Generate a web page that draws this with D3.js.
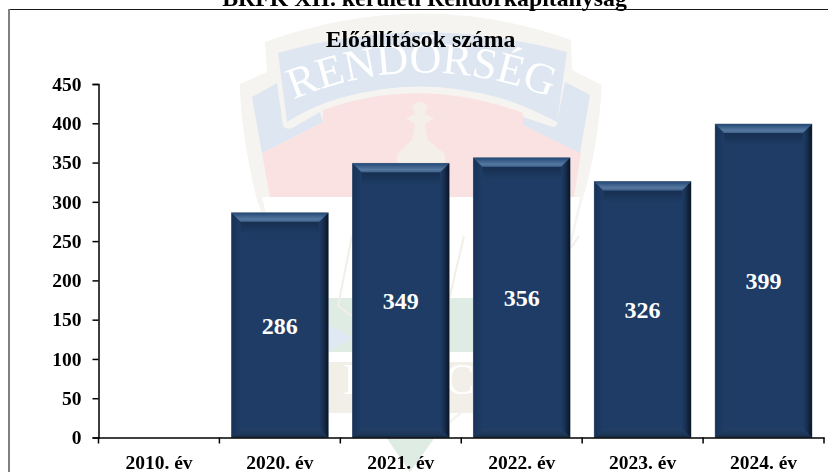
<!DOCTYPE html>
<html>
<head>
<meta charset="utf-8">
<script src="https://cdn.jsdelivr.net/npm/d3@7"></script>
<style>
  html, body { margin: 0; padding: 0; background: #fff; overflow: hidden; }
  svg { display: block; filter: blur(0.35px); }
  text { font-family: "Liberation Serif", serif; font-weight: bold; }
</style>
</head>
<body>
<script>
// Chart data
var categories = ["2010. év", "2020. év", "2021. év", "2022. év", "2023. év", "2024. év"];
var values = [null, 286, 349, 356, 326, 399];
var yTicks = [0, 50, 100, 150, 200, 250, 300, 350, 400, 450];

var pageTitle = "BRFK XII. kerületi Rendőrkapitányság";
var chartTitle = "Előállítások száma";
var crestWord = "RENDŐRSÉG";

var width = 828, height = 472;

var svg = d3.select("body").append("svg")
    .attr("width", width)
    .attr("height", height);

var defs = svg.append("defs");

// Helper for the bevel gradients
function addGradient(id, x2, y2, stops) {
  var g = defs.append("linearGradient")
      .attr("id", id)
      .attr("x1", "0%").attr("y1", "0%")
      .attr("x2", x2).attr("y2", y2);
  stops.forEach(function(s) {
    g.append("stop")
        .attr("offset", s[0])
        .attr("stop-color", s[1]);
  });
}

addGradient("bevelTop", "0%", "100%", [["0%", "#234876"], ["70%", "#56789f"], ["100%", "#3f628c"]]);
addGradient("bevelRight", "100%", "0%", [["0%", "#1e3c65"], ["45%", "#182f50"], ["100%", "#0a1524"]]);
addGradient("bevelLeft", "100%", "0%", [["0%", "#18325a"], ["100%", "#1e3c65"]]);
addGradient("bevelBottom", "0%", "100%", [["0%", "#233f66"], ["70%", "#1c3657"], ["100%", "#15283f"]]);
addGradient("shadeTop", "0%", "100%", [["0%", "#172f50"], ["100%", "#1e3c65"]]);

/*
  WATERMARK (police crest behind the chart)
*/
var crestShapes = [
  { fill: "#f6f4f0", d: "M240,84 L267,72 L265,42 Q420,-14 571,40 L572,70 L602,85 Q598,150 581,205 L570,250 L500,380 L420,450 L340,380 L275,250 L257,200 Q240,130 240,84 Z" },
  { fill: "#ffffff", d: "M262,197 L580,197 L565,262 L510,370 L420,445 L330,370 L278,262 Z" },
  { fill: "#fbe2e2", d: "M262,153 L323,122 L323,110 Q420,75 523,113 L523,125 L581,153 L574,197 L270,197 Z" },
  { fill: "#dde6f1", d: "M252,97 L277,83 L283,126 Q287,131 294,127 L320,112 L323,122 L262,153 Z" },
  { fill: "#dde6f1", d: "M565,82 L590,95 L580,153 L523,125 L523,117 L553,127 Q558,127 557,122 Z" },
  { fill: "#dde6f1", d: "M278,53 Q420,12 567,52 L557,122 Q525,105 500,98 Q420,75 340,98 Q310,107 287,122 Z" },
  { fill: "#f5efe9", d: "M412,106 Q420,98 428,106 L425,114 L434,118 L425,124 L428,140 L445,154 L445,172 L397,172 L397,154 L412,140 L415,124 L406,118 L415,114 Z" },
  { fill: "#deece4", d: "M327,298 L475,298 L475,352 L327,352 Z" },
  { fill: "#dfe8f3", d: "M327,324 L352,338 L327,352 Z" },
  { fill: "#f2efe9", d: "M327,362 L475,362 L475,413 L327,413 Z" },
  { fill: "#deece4", d: "M450,413 L433,440 L410,472 L388,440 L370,413 Z" }
];

var crest = svg.append("g");

crest.selectAll("path")
    .data(crestShapes)
  .enter().append("path")
    .attr("d", function(d) { return d.d; })
    .attr("fill", function(d) { return d.fill; });

// Inner outline of the shield
crest.append("path")
    .attr("d", "M352,236 L338,306 L352,316 M464,236 L449,300 M579,236 L570,249")
    .attr("fill", "none")
    .attr("stroke", "#f2efe9")
    .attr("stroke-width", 2);

defs.append("path")
    .attr("id", "crestArc")
    .attr("d", "M292,100 Q420,46 552,98");

crest.append("text")
    .attr("font-size", 44)
    .attr("fill", "#ffffff")
    .style("font-weight", "normal")
  .append("textPath")
    .attr("href", "#crestArc")
    .attr("startOffset", "50%")
    .attr("text-anchor", "middle")
    .text(crestWord);

crest.append("text")
    .attr("x", 358).attr("y", 394)
    .attr("text-anchor", "middle")
    .attr("font-size", 44)
    .attr("fill", "#ffffff")
    .style("font-weight", "normal")
    .text("R");

crest.append("text")
    .attr("x", 460).attr("y", 394)
    .attr("text-anchor", "middle")
    .attr("font-size", 44)
    .attr("fill", "#ffffff")
    .style("font-weight", "normal")
    .text("C");

/*
  FRAME AND TITLES
*/
svg.append("line")
    .attr("x1", 9).attr("x2", width)
    .attr("y1", 9.5).attr("y2", 9.5)
    .attr("stroke", "#1a1a1a")
    .attr("stroke-width", 1);

svg.append("line")
    .attr("x1", 9).attr("x2", 9)
    .attr("y1", 9).attr("y2", height)
    .attr("stroke", "#808080")
    .attr("stroke-width", 2);

svg.append("text")
    .attr("x", 424.5)
    .attr("y", 6)
    .attr("text-anchor", "middle")
    .attr("font-size", 23.8)
    .attr("fill", "#000")
    .text(pageTitle);

svg.append("text")
    .attr("x", 420.5)
    .attr("y", 47)
    .attr("text-anchor", "middle")
    .attr("font-size", 23.8)
    .attr("fill", "#000")
    .text(chartTitle);

/*
  SCALES
*/
var x = d3.scaleBand()
    .domain(categories)
    .range([98.5, 824])
    .paddingInner(0.2)
    .paddingOuter(0.1);

var y = d3.scaleLinear()
    .domain([0, 450])
    .range([437.5, 84]);

/*
  BARS
*/
var bevel = 9;

var barData = categories
    .map(function(c, i) { return { category: c, value: values[i] }; })
    .filter(function(d) { return d.value !== null; });

var bars = svg.selectAll(".bar")
    .data(barData)
  .enter().append("g")
    .attr("class", "bar")
    .attr("transform", function(d) {
      return "translate(" + x(d.category) + "," + y(d.value) + ")";
    });

function barH(d) { return y(0) - y(d.value); }

bars.append("rect")
    .attr("width", x.bandwidth())
    .attr("height", barH)
    .attr("fill", "#1e3c65")
    .attr("stroke", "#7b8794")
    .attr("stroke-width", 0.8);

// soft shade under the top bevel
bars.append("rect")
    .attr("x", bevel)
    .attr("y", bevel)
    .attr("width", x.bandwidth() - 2 * bevel)
    .attr("height", 12)
    .attr("fill", "url(#shadeTop)");

bars.append("path")
    .attr("fill", "url(#bevelLeft)")
    .attr("d", function(d) {
      var h = barH(d);
      return "M0,0 L" + bevel + "," + bevel + " L" + bevel + "," + (h - bevel) + " L0," + h + " Z";
    });

bars.append("path")
    .attr("fill", "url(#bevelRight)")
    .attr("d", function(d) {
      var h = barH(d), w = x.bandwidth();
      return "M" + w + ",0 L" + (w - bevel) + "," + bevel + " L" + (w - bevel) + "," + (h - bevel) + " L" + w + "," + h + " Z";
    });

bars.append("path")
    .attr("fill", "url(#bevelTop)")
    .attr("d", function() {
      var w = x.bandwidth();
      return "M0,0 L" + w + ",0 L" + (w - bevel) + "," + bevel + " L" + bevel + "," + bevel + " Z";
    });

bars.append("path")
    .attr("fill", "url(#bevelBottom)")
    .attr("d", function(d) {
      var h = barH(d), w = x.bandwidth();
      return "M0," + h + " L" + w + "," + h + " L" + (w - bevel) + "," + (h - bevel) + " L" + bevel + "," + (h - bevel) + " Z";
    });

bars.append("text")
    .attr("x", x.bandwidth() / 2)
    .attr("y", function(d) { return barH(d) / 2; })
    .attr("dy", "0.35em")
    .attr("text-anchor", "middle")
    .attr("font-size", 24)
    .attr("fill", "#ffffff")
    .text(function(d) { return d.value; });

/*
  AXES
*/
var yAxis = d3.axisLeft(y)
    .tickValues(yTicks)
    .tickSize(6)
    .tickPadding(11);

var yG = svg.append("g")
    .attr("transform", "translate(98.5,0)")
    .call(yAxis);

var xAxis = d3.axisBottom(x)
    .tickSize(0)
    .tickPadding(18);

var xG = svg.append("g")
    .attr("transform", "translate(0,437.5)")
    .call(xAxis);

// Category boundary ticks: the axis only gives centred ones
xG.selectAll(".boundary")
    .data(d3.range(categories.length + 1))
  .enter().append("line")
    .attr("class", "boundary")
    .attr("x1", function(i) { return 98.5 + i * x.step(); })
    .attr("x2", function(i) { return 98.5 + i * x.step(); })
    .attr("y1", 0)
    .attr("y2", 6)
    .attr("stroke", "#000")
    .attr("stroke-width", 1.5);

svg.selectAll(".domain")
    .attr("stroke", "#000")
    .attr("stroke-width", 1.5);
svg.selectAll(".tick line")
    .attr("stroke", "#000")
    .attr("stroke-width", 1.5);
svg.selectAll(".tick text")
    .attr("fill", "#000")
    .style("font-family", '"Liberation Serif", serif')
    .style("font-weight", "bold");

yG.selectAll(".tick text").style("font-size", "19.5px");
xG.selectAll(".tick text").style("font-size", "19.5px");
</script>
</body>
</html>
